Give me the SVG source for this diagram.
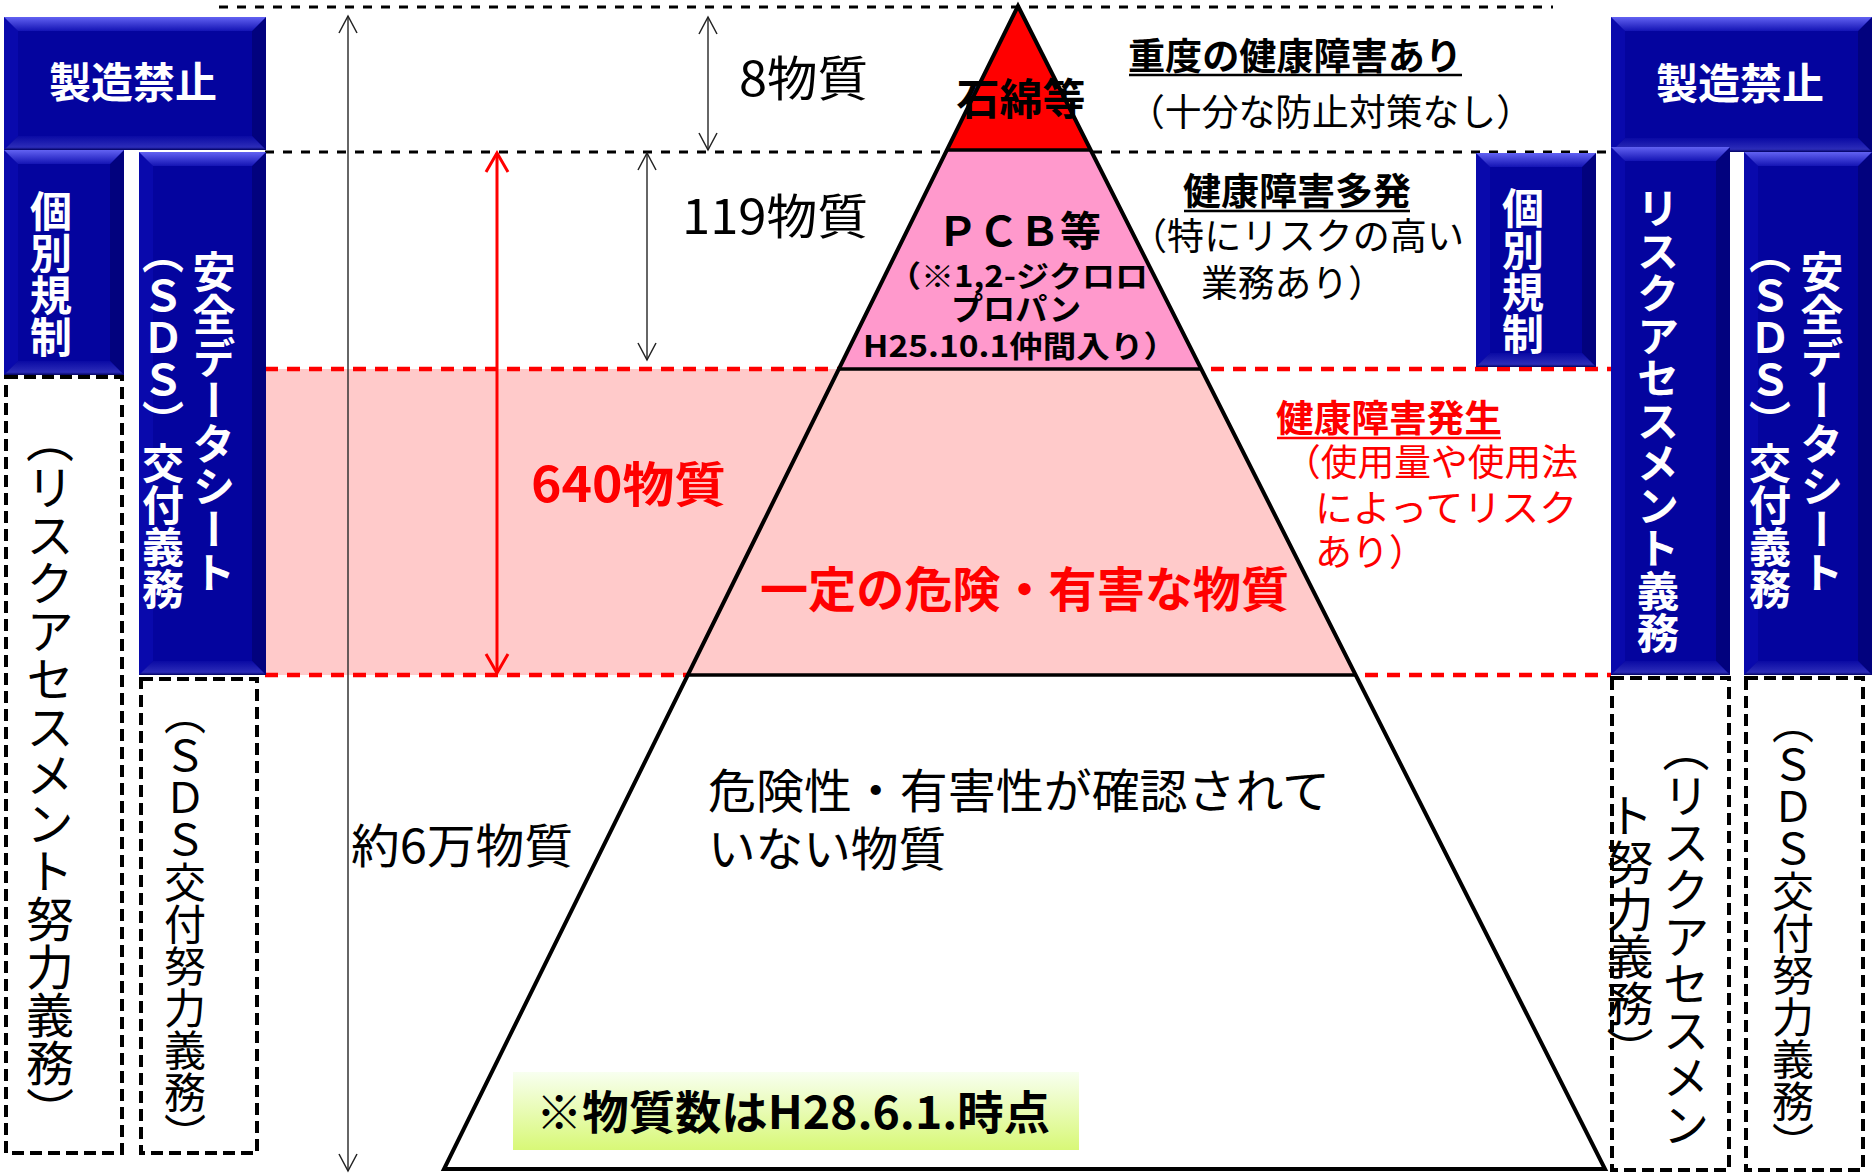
<svg xmlns="http://www.w3.org/2000/svg" width="1874" height="1175" viewBox="0 0 1874 1175">
<defs>
<style>
text{font-family:"Noto Sans CJK JP","Noto Sans CJK SC",sans-serif;fill:#000}
.b{font-weight:700}
.wt{fill:#fff}
.red{fill:#f00}
.v{writing-mode:vertical-rl}
.navy{fill:#04049E}
.bt{fill:url(#gTop)}
.bb{fill:url(#gBot)}
.bs{fill:#02027E}
.bl{fill:#0909AC}
.dbox{fill:none;stroke:#000;stroke-width:4;stroke-dasharray:12 6}
.kd{stroke:#000;stroke-width:2.8;stroke-dasharray:9 9;fill:none}
.rd{stroke:#f00;stroke-width:4.5;stroke-dasharray:13 9;fill:none}
.ar{stroke:#333;stroke-width:1.5;fill:none;marker-start:url(#ak);marker-end:url(#ak)}
.arr{stroke:#f00;stroke-width:3;fill:none;marker-start:url(#arm);marker-end:url(#arm)}
.ul{stroke:#000;stroke-width:2.5}
.ulr{stroke:#f00;stroke-width:2.5}
.tier{stroke:#000;stroke-width:3.5}
</style>
<linearGradient id="gTop" x1="0" y1="0" x2="0" y2="1">
<stop offset="0" stop-color="#6262F2"/><stop offset="1" stop-color="#1414B4"/>
</linearGradient>
<linearGradient id="gBot" x1="0" y1="0" x2="0" y2="1">
<stop offset="0" stop-color="#0A0AA4"/><stop offset="0.8" stop-color="#2C2CB8"/><stop offset="1" stop-color="#000060"/>
</linearGradient>
<linearGradient id="gNote" x1="0" y1="0" x2="0" y2="1">
<stop offset="0" stop-color="#F8FFF0"/><stop offset="1" stop-color="#D8F877"/>
</linearGradient>
<marker id="ak" viewBox="-22 -12 24 24" refX="0" refY="0" markerWidth="24" markerHeight="24" markerUnits="userSpaceOnUse" orient="auto-start-reverse">
<path d="M-17,-9 L0,0 L-17,9" fill="none" stroke="#222" stroke-width="1.5"/>
</marker>
<marker id="arm" viewBox="-24 -14 28 28" refX="0" refY="0" markerWidth="28" markerHeight="28" markerUnits="userSpaceOnUse" orient="auto-start-reverse">
<path d="M-19,-11 L0,0 L-19,11" fill="none" stroke="#f00" stroke-width="3"/>
</marker>
</defs>

<rect width="1874" height="1175" fill="#fff"/>

<!-- pink band -->
<rect id="band" x="265" y="369" width="760" height="306" fill="#FFCACA"/>

<g id="connectors">
<line class="kd" x1="219" y1="7" x2="1553" y2="7"/>
<line class="kd" x1="265" y1="152" x2="1611" y2="152"/>
<line class="rd" x1="265" y1="369" x2="1611" y2="369"/>
<line class="rd" x1="265" y1="675" x2="1611" y2="675"/>
<line class="ar" x1="348" y1="16" x2="348" y2="1171"/>
<line class="ar" x1="708" y1="17" x2="708" y2="150"/>
<line class="ar" x1="647" y1="153" x2="647" y2="360"/>
<line class="arr" x1="497" y1="153" x2="497" y2="673"/>
</g>

<g id="pyramid">
<polygon id="tier1" points="1018,6 1090.6,150 946.9,150" fill="#FF0000"/>
<polygon id="tier2" points="946.9,150 1090.6,150 1201.1,369 838.8,369" fill="#FF99CC"/>
<polygon id="tier3" points="838.8,369 1201.1,369 1355.4,675 687.8,675" fill="#FFCACA"/>
<polygon id="tier4" points="687.8,675 1355.4,675 1605,1169 444,1169" fill="#FFFFFF"/>
<line class="tier" x1="946.9" y1="150" x2="1090.6" y2="150"/>
<line class="tier" x1="838.8" y1="369" x2="1201.1" y2="369"/>
<line class="tier" x1="687.8" y1="675" x2="1355.4" y2="675"/>
<polygon points="1018,6 1605,1169 444,1169" fill="none" stroke="#000" stroke-width="4"/>
</g>

<!-- left blue boxes -->
<g id="l-seizo">
<rect class="navy" x="4" y="17" width="262" height="133"/>
<polygon class="bl" points="4,17 18,31 18,136 4,150"/>
<polygon class="bs" points="266,17 252,31 252,136 266,150"/>
<polygon class="bt" points="4,17 266,17 252,31 18,31"/>
<polygon class="bb" points="4,150 266,150 252,136 18,136"/>
<text class="b wt" x="133" y="98" font-size="42" text-anchor="middle">製造禁止</text>
</g>
<g id="l-kobetsu">
<rect class="navy" x="4" y="150" width="120" height="225"/>
<polygon class="bl" points="4,150 18,164 18,361 4,375"/>
<polygon class="bs" points="124,150 110,164 110,361 124,375"/>
<polygon class="bt" points="4,150 124,150 110,164 18,164"/>
<polygon class="bb" points="4,375 124,375 110,361 18,361"/>
<text class="b wt v" x="51" y="190" font-size="42">個別規制</text>
</g>
<g id="l-sds">
<rect class="navy" x="139" y="152" width="127" height="523"/>
<polygon class="bl" points="139,152 153,166 153,661 139,675"/>
<polygon class="bs" points="266,152 252,166 252,661 266,675"/>
<polygon class="bt" points="139,152 266,152 252,166 153,166"/>
<polygon class="bb" points="139,675 266,675 252,661 153,661"/>
<text class="b wt v" x="214" y="250" font-size="43">安全データシート</text>
<text class="b wt v" x="163" y="232" font-size="42">（ＳＤＳ）交付義務</text>
</g>
<g id="l-risk-effort">
<rect class="dbox" x="6" y="377" width="116" height="776"/>
<text class="v" x="50" y="415" font-size="48">（リスクアセスメント努力義務）</text>
</g>
<g id="l-sds-effort">
<rect class="dbox" x="141" y="679" width="116" height="474"/>
<text class="v" x="185" y="693" font-size="42">（ＳＤＳ交付努力義務）</text>
</g>

<!-- right blue boxes -->
<g id="r-seizo">
<rect class="navy" x="1611" y="17" width="261" height="135"/>
<polygon class="bl" points="1611,17 1625,31 1625,138 1611,152"/>
<polygon class="bs" points="1872,17 1858,31 1858,138 1872,152"/>
<polygon class="bt" points="1611,17 1872,17 1858,31 1625,31"/>
<polygon class="bb" points="1611,152 1872,152 1858,138 1625,138"/>
<text class="b wt" x="1740" y="99" font-size="42" text-anchor="middle">製造禁止</text>
</g>
<g id="r-kobetsu">
<rect class="navy" x="1476" y="153" width="120" height="214"/>
<polygon class="bl" points="1476,153 1490,167 1490,353 1476,367"/>
<polygon class="bs" points="1596,153 1582,167 1582,353 1596,367"/>
<polygon class="bt" points="1476,153 1596,153 1582,167 1490,167"/>
<polygon class="bb" points="1476,367 1596,367 1582,353 1490,353"/>
<text class="b wt v" x="1523" y="187" font-size="42">個別規制</text>
</g>
<g id="r-risk">
<rect class="navy" x="1611" y="147" width="119" height="528"/>
<polygon class="bl" points="1611,147 1625,161 1625,661 1611,675"/>
<polygon class="bs" points="1730,147 1716,161 1716,661 1730,675"/>
<polygon class="bt" points="1611,147 1730,147 1716,161 1625,161"/>
<polygon class="bb" points="1611,675 1730,675 1716,661 1625,661"/>
<text class="b wt v" x="1658" y="187" font-size="42.5">リスクアセスメント義務</text>
</g>
<g id="r-sds">
<rect class="navy" x="1744" y="152" width="128" height="523"/>
<polygon class="bl" points="1744,152 1758,166 1758,661 1744,675"/>
<polygon class="bs" points="1872,152 1858,166 1858,661 1872,675"/>
<polygon class="bt" points="1744,152 1872,152 1858,166 1758,166"/>
<polygon class="bb" points="1744,675 1872,675 1858,661 1758,661"/>
<text class="b wt v" x="1822" y="250" font-size="43">安全データシート</text>
<text class="b wt v" x="1770" y="232" font-size="42">（ＳＤＳ）交付義務</text>
</g>
<g id="r-risk-effort">
<rect class="dbox" x="1612" y="678" width="117" height="492"/>
<text class="v" x="1686" y="725" font-size="47">（リスクアセスメン</text>
<text class="v" x="1630" y="792" font-size="47">ト努力義務）</text>
</g>
<g id="r-sds-effort">
<rect class="dbox" x="1746" y="678" width="117" height="492"/>
<text class="v" x="1793" y="702" font-size="42">（ＳＤＳ交付努力義務）</text>
</g>

<!-- counts -->
<g id="counts">
<text x="739" y="96" font-size="48" textLength="129" lengthAdjust="spacingAndGlyphs">8物質</text>
<text x="682" y="234" font-size="48" textLength="186" lengthAdjust="spacingAndGlyphs">119物質</text>
<text class="b red" x="531" y="502" font-size="48" textLength="195" lengthAdjust="spacingAndGlyphs">640物質</text>
<text x="351" y="863" font-size="47" textLength="222" lengthAdjust="spacingAndGlyphs">約6万物質</text>
</g>

<!-- pyramid labels -->
<g id="tier-labels">
<text class="b" x="1021" y="115" font-size="43" text-anchor="middle">石綿等</text>
<text class="b" x="1019" y="246" font-size="41" text-anchor="middle">ＰＣＢ等</text>
<text class="b" x="888" y="287" font-size="30" textLength="260" lengthAdjust="spacingAndGlyphs">（※1,2-ジクロロ</text>
<text class="b" x="951" y="320" font-size="31" textLength="130" lengthAdjust="spacingAndGlyphs">プロパン</text>
<text class="b" x="863" y="357" font-size="30" textLength="314" lengthAdjust="spacingAndGlyphs">H25.10.1仲間入り）</text>
<text class="b red" x="760" y="607" font-size="47.5" textLength="529" lengthAdjust="spacingAndGlyphs">一定の危険・有害な物質</text>
<text x="708" y="808" font-size="47" textLength="622" lengthAdjust="spacingAndGlyphs">危険性・有害性が確認されて</text>
<text x="708" y="866" font-size="47" textLength="238" lengthAdjust="spacingAndGlyphs">いない物質</text>
</g>

<g id="note">
<rect x="513" y="1072" width="566" height="78" fill="url(#gNote)"/>
<text class="b" x="536" y="1129" font-size="46" textLength="514" lengthAdjust="spacingAndGlyphs">※物質数はH28.6.1.時点</text>
</g>

<!-- right side descriptions -->
<g id="desc1">
<text class="b" x="1128" y="70" font-size="37" textLength="334" lengthAdjust="spacingAndGlyphs">重度の健康障害あり</text>
<line class="ul" x1="1129" y1="75" x2="1462" y2="75"/>
<text x="1128" y="126" font-size="37" textLength="405" lengthAdjust="spacingAndGlyphs">（十分な防止対策なし）</text>
</g>
<g id="desc2">
<text class="b" x="1183" y="205" font-size="37" textLength="228" lengthAdjust="spacingAndGlyphs">健康障害多発</text>
<line class="ul" x1="1184" y1="211" x2="1410" y2="211"/>
<text x="1130" y="250" font-size="37" textLength="334" lengthAdjust="spacingAndGlyphs">（特にリスクの高い</text>
<text x="1201" y="297" font-size="37" textLength="184" lengthAdjust="spacingAndGlyphs">業務あり）</text>
</g>
<g id="desc3">
<text class="b red" x="1276" y="432" font-size="37" textLength="226" lengthAdjust="spacingAndGlyphs">健康障害発生</text>
<line class="ulr" x1="1277" y1="438" x2="1501" y2="438"/>
<text class="red" x="1284" y="476" font-size="37" textLength="294" lengthAdjust="spacingAndGlyphs">（使用量や使用法</text>
<text class="red" x="1315" y="522" font-size="37" textLength="262" lengthAdjust="spacingAndGlyphs">によってリスク</text>
<text class="red" x="1315" y="566" font-size="37">あり）</text>
</g>
</svg>
